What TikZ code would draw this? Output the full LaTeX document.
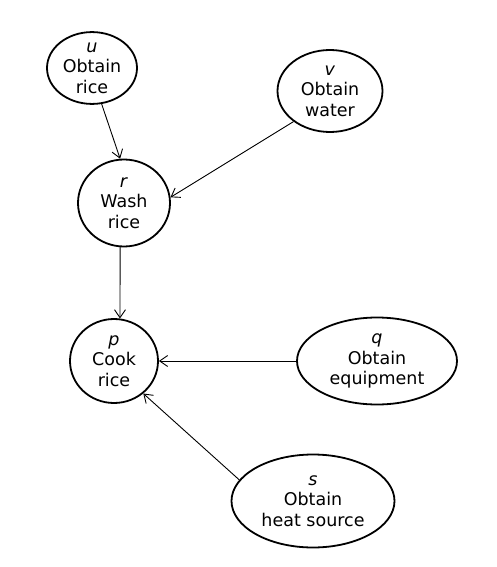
\documentclass[tikz,border=0pt]{standalone}
\usepackage{fontspec}
\setmainfont{DejaVu Sans}
\usetikzlibrary{shapes.geometric,arrows.meta}
\begin{document}
\begin{tikzpicture}[x=1pt, y=-1pt, >={Straight Barb[length=8pt,width=11pt]},
    task/.style={draw, line width=1.8pt, ellipse, inner sep=0pt, align=center,
      font=\fontsize{17.5}{20.5}\selectfont},
    dep/.style={->, line width=0.9pt}]
    \useasboundingbox (0,0) rectangle (496,567);
    \node[task, minimum width=90pt, minimum height=67pt] (u) at (92,68) {\textit{u}\\Obtain\\rice};
    \node[task, minimum width=105pt, minimum height=82pt] (v) at (330,91) {\textit{v}\\Obtain\\water};
    \node[task, minimum width=92pt, minimum height=87pt] (r) at (124,203) {\textit{r}\\Wash\\rice};
    \node[task, minimum width=88pt, minimum height=84pt] (p) at (114,361) {\textit{p}\\Cook\\rice};
    \node[task, minimum width=160pt, minimum height=87pt] (q) at (377,361) {\textit{q}\\Obtain\\equipment};
    \node[task, minimum width=163pt, minimum height=93pt] (s) at (313,501) {\textit{s}\\Obtain\\heat source};
    \draw[dep] (u.-75) -- (r.95);
    \draw[dep] (v.220) -- (r.7);
    \draw[dep] (r.-95) -- (p.82);
    \draw[dep] (q) -- (p);
    \draw[dep] (s.164) -- (p.-48);
\end{tikzpicture}
\end{document}
